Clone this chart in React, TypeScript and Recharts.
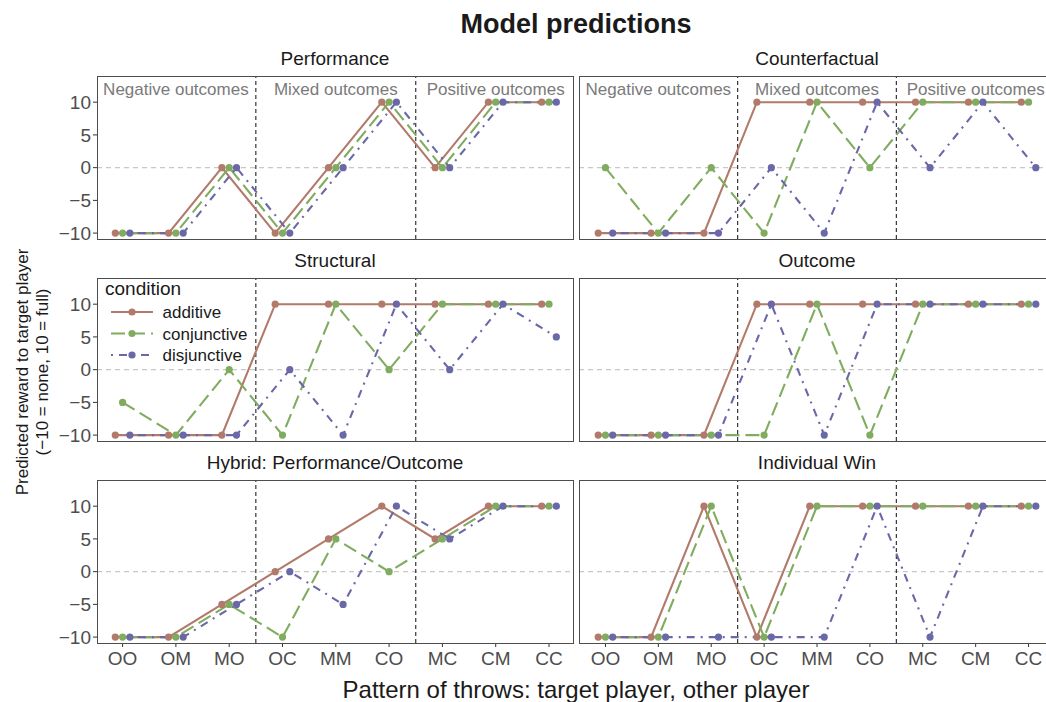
import React from 'react';
import { LineChart, Line, XAxis, YAxis, ReferenceLine, ReferenceDot } from 'recharts';

// ---- data ----
const categories = ['OO', 'OM', 'MO', 'OC', 'MM', 'CO', 'MC', 'CM', 'CC'];
const conditions = ['additive', 'conjunctive', 'disjunctive'];
const yTicks = [-10, -5, 0, 5, 10];
const sectionLabels = ['Negative outcomes', 'Mixed outcomes', 'Positive outcomes'];
const sectionCenters = [2, 5, 8];
const sectionBreaks = [3.5, 6.5];

const performanceAdditive = [-10, -10, 0, -10, 0, 10, 0, 10, 10];
const performanceConjunctive = [-10, -10, 0, -10, 0, 10, 0, 10, 10];
const performanceDisjunctive = [-10, -10, 0, -10, 0, 10, 0, 10, 10];

const counterfactualAdditive = [-10, -10, -10, 10, 10, 10, 10, 10, 10];
const counterfactualConjunctive = [0, -10, 0, -10, 10, 0, 10, 10, 10];
const counterfactualDisjunctive = [-10, -10, -10, 0, -10, 10, 0, 10, 0];

const structuralAdditive = [-10, -10, -10, 10, 10, 10, 10, 10, 10];
const structuralConjunctive = [-5, -10, 0, -10, 10, 0, 10, 10, 10];
const structuralDisjunctive = [-10, -10, -10, 0, -10, 10, 0, 10, 5];

const outcomeAdditive = [-10, -10, -10, 10, 10, 10, 10, 10, 10];
const outcomeConjunctive = [-10, -10, -10, -10, 10, -10, 10, 10, 10];
const outcomeDisjunctive = [-10, -10, -10, 10, -10, 10, 10, 10, 10];

const hybridAdditive = [-10, -10, -5, 0, 5, 10, 5, 10, 10];
const hybridConjunctive = [-10, -10, -5, -10, 5, 0, 5, 10, 10];
const hybridDisjunctive = [-10, -10, -5, 0, -5, 10, 5, 10, 10];

const individualAdditive = [-10, -10, 10, -10, 10, 10, 10, 10, 10];
const individualConjunctive = [-10, -10, 10, -10, 10, 10, 10, 10, 10];
const individualDisjunctive = [-10, -10, -10, -10, -10, 10, -10, 10, 10];

// ---- styles ----
const FONT = '"Liberation Sans", Arial, Helvetica, sans-serif';
const colors = ['#B27A6A', '#80AC5F', '#6A68A7'];
const dashes = [undefined, '14 6', '2 6 8 6'];
const dodge = [-0.137, 0, 0.137];

const PANEL_W = 476;
const PANEL_H = 163;
const PAD = 10;
const COL_X = [97, 579];
const ROW_Y = [76, 278, 480];
const X_DOMAINS: [number, number][] = [
  [0.52, 9.45],
  [0.5, 9.5],
];
const Y_DOMAIN: [number, number] = [-10.9, 14];

const fmtNum = (v: number) => (v < 0 ? '\u2212' + Math.abs(v) : String(v));

const toPoints = (vals: number[], off: number) => vals.map((y, i) => ({ x: i + 1 + off, y }));

type PanelProps = {
  title: string;
  col: number;
  row: number;
  series: number[][];
  sections: boolean;
};

function Panel({ title, col, row, series, sections }: PanelProps) {
  const showY = col === 0;
  const showX = row === 2;
  const yAxisW = showY ? COL_X[0] - 30 : 0;
  const chartLeft = COL_X[col] - yAxisW;
  const top = ROW_Y[row];
  const xAxisH = showX ? 34 : 0;
  const padB = showX ? 0 : PAD;
  return (
    <>
      <div
        style={{
          position: 'absolute',
          left: COL_X[col],
          top: top - 28,
          width: PANEL_W,
          textAlign: 'center',
          fontFamily: FONT,
          fontSize: 19,
          color: '#1a1a1a',
          lineHeight: '22px',
          whiteSpace: 'nowrap',
        }}
      >
        {title}
      </div>
      <div style={{ position: 'absolute', left: chartLeft, top: top - PAD }}>
        <LineChart
          width={PANEL_W + yAxisW}
          height={PANEL_H + xAxisH + PAD + padB}
          margin={{ top: PAD, right: 0, bottom: padB, left: 0 }}
          style={{ fontFamily: FONT }}
        >
          <XAxis
            type="number"
            dataKey="x"
            domain={X_DOMAINS[col]}
            allowDataOverflow
            ticks={[1, 2, 3, 4, 5, 6, 7, 8, 9]}
            interval={0}
            tickFormatter={(v: number) => categories[Math.round(v) - 1] ?? ''}
            hide={!showX}
            height={xAxisH}
            axisLine={false}
            tickSize={4}
            tickMargin={5}
            tickLine={{ stroke: '#333333' }}
            tick={{ fill: '#4d4d4d', fontSize: 19, fontFamily: FONT }}
          />
          <YAxis
            type="number"
            dataKey="y"
            domain={Y_DOMAIN}
            allowDataOverflow
            ticks={yTicks}
            interval={0}
            tickFormatter={fmtNum}
            hide={!showY}
            width={yAxisW}
            axisLine={false}
            tickSize={4}
            tickMargin={2}
            tickLine={{ stroke: '#333333' }}
            tick={{ fill: '#4d4d4d', fontSize: 19, fontFamily: FONT }}
          />
          <ReferenceLine y={0} stroke="#c8c8c8" strokeWidth={1.2} strokeDasharray="5 4" />
          {sectionBreaks.map((b) => (
            <ReferenceLine key={b} x={b} stroke="#222222" strokeWidth={1.1} strokeDasharray="4 3" />
          ))}
          {sections &&
            sectionLabels.map((s, i) => (
              <ReferenceDot
                key={s}
                x={sectionCenters[i]}
                y={12}
                r={1}
                fill="none"
                stroke="none"
                label={{ value: s, position: 'center', fill: '#7a7a7a', fontSize: 17, fontFamily: FONT }}
              />
            ))}
          {series.map((vals, i) => (
            <Line
              key={conditions[i]}
              data={toPoints(vals, dodge[i])}
              dataKey="y"
              type="linear"
              stroke={colors[i]}
              strokeWidth={2.1}
              strokeDasharray={dashes[i]}
              dot={{ r: 3.6, fill: colors[i], stroke: 'none', strokeDasharray: undefined }}
              activeDot={false}
              isAnimationActive={false}
            />
          ))}
        </LineChart>
      </div>
      <div
        style={{
          position: 'absolute',
          left: COL_X[col],
          top,
          width: PANEL_W + 1,
          height: PANEL_H + 1,
          border: '1px solid #4d4d4d',
          boxSizing: 'border-box',
          pointerEvents: 'none',
        }}
      />
    </>
  );
}

function LegendBox() {
  const rows = [34, 55.5, 77];
  return (
    <svg
      style={{ position: 'absolute', left: 100, top: 278 }}
      width={160}
      height={90}
      fontFamily={FONT}
    >
      <text x={5} y={16.5} fontSize={19} fill="#1a1a1a">
        condition
      </text>
      {conditions.map((c, i) => (
        <g key={c}>
          <line
            x1={11}
            x2={53}
            y1={rows[i]}
            y2={rows[i]}
            stroke={colors[i]}
            strokeWidth={2.1}
            strokeDasharray={dashes[i]}
          />
          <circle cx={32} cy={rows[i]} r={3.6} fill={colors[i]} />
          <text x={62.5} y={rows[i] + 6} fontSize={17} fill="#1a1a1a">
            {c}
          </text>
        </g>
      ))}
    </svg>
  );
}

export default function App() {
  return (
    <div
      style={{
        position: 'fixed',
        left: 0,
        top: 0,
        width: 1046,
        height: 702,
        overflow: 'hidden',
        background: '#ffffff',
        fontFamily: FONT,
      }}
    >
      <div
        style={{
          position: 'absolute',
          left: 97,
          width: 958,
          top: 7,
          textAlign: 'center',
          fontSize: 27,
          fontWeight: 'bold',
          color: '#1a1a1a',
          lineHeight: '34px',
        }}
      >
        Model predictions
      </div>

      <Panel title="Performance" col={0} row={0} sections
        series={[performanceAdditive, performanceConjunctive, performanceDisjunctive]} />
      <Panel title="Counterfactual" col={1} row={0} sections
        series={[counterfactualAdditive, counterfactualConjunctive, counterfactualDisjunctive]} />
      <Panel title="Structural" col={0} row={1} sections={false}
        series={[structuralAdditive, structuralConjunctive, structuralDisjunctive]} />
      <Panel title="Outcome" col={1} row={1} sections={false}
        series={[outcomeAdditive, outcomeConjunctive, outcomeDisjunctive]} />
      <Panel title="Hybrid: Performance/Outcome" col={0} row={2} sections={false}
        series={[hybridAdditive, hybridConjunctive, hybridDisjunctive]} />
      <Panel title="Individual Win" col={1} row={2} sections={false}
        series={[individualAdditive, individualConjunctive, individualDisjunctive]} />

      <LegendBox />

      <svg style={{ position: 'absolute', left: 0, top: 0 }} width={54} height={702} fontFamily={FONT}>
        <text transform="translate(28,372) rotate(-90)" textAnchor="middle" fontSize={17} fill="#1a1a1a">
          Predicted reward to target player
        </text>
        <text transform="translate(48,372) rotate(-90)" textAnchor="middle" fontSize={17} fill="#1a1a1a">
          (−10 = none, 10 = full)
        </text>
      </svg>

      <div
        style={{
          position: 'absolute',
          left: 97,
          width: 958,
          top: 676,
          textAlign: 'center',
          fontSize: 24,
          color: '#1a1a1a',
          lineHeight: '28px',
          whiteSpace: 'nowrap',
        }}
      >
        Pattern of throws: target player, other player
      </div>
    </div>
  );
}
